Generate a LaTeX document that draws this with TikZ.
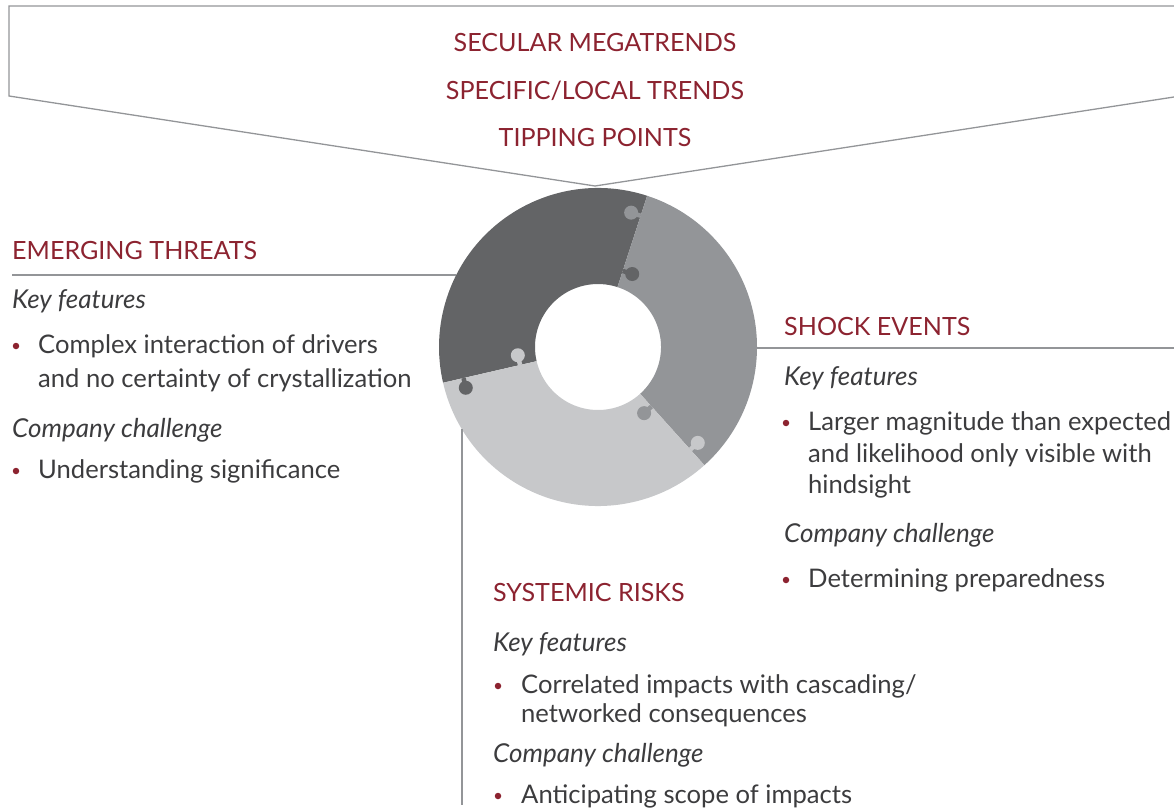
\documentclass[tikz,border=0pt]{standalone}
\usepackage{fontspec}
\setmainfont{Lato}
\usepackage{tikz}

\definecolor{riskred}{HTML}{8C2330}
\definecolor{bodygray}{HTML}{3C3C3E}
\definecolor{rulegray}{HTML}{939598}
\definecolor{segdark}{HTML}{636466}
\definecolor{segmid}{HTML}{939598}
\definecolor{seglight}{HTML}{C7C8CA}

\tikzset{
  heading/.style={anchor=base west, inner sep=0pt, text=riskred, font=\fontsize{25.1}{30}\selectfont},
  trend/.style={anchor=base, inner sep=0pt, text=riskred, font=\fontsize{25.1}{30}\selectfont},
  subhead/.style={anchor=base west, inner sep=0pt, text=bodygray, font=\fontsize{26}{30}\selectfont\itshape},
  item/.style={anchor=base west, inner sep=0pt, text=bodygray, font=\fontsize{25.6}{30}\selectfont},
  bullet/.style={circle, fill=riskred, inner sep=0pt, minimum size=6.5pt},
  rule/.style={draw=rulegray, line width=1.3pt},
}

\begin{document}
\begin{tikzpicture}[x=1pt, y=1pt]
  \useasboundingbox (0,0) rectangle (1174,-810);

  % funnel on top
  \draw[rule] (1174,-6) -- (9,-6) -- (9,-96) -- (595,-186) -- (1174,-97);
  \node[trend] (secular) at (595,-52) {SECULAR MEGATRENDS};
  \node[trend] (local) at (595,-100) {SPECIFIC/LOCAL TRENDS};
  \node[trend] (tipping) at (595,-147) {TIPPING POINTS};

  % donut
  \coordinate (c) at (598,-347);
  \fill[segdark] ([shift={(72:159)}]c) arc[start angle=72, end angle=193, radius=159]
    -- ([shift={(193:63)}]c) arc[start angle=193, end angle=72, radius=63] -- cycle;
  \fill[segmid] ([shift={(-48:159)}]c) arc[start angle=-48, end angle=72, radius=159]
    -- ([shift={(72:63)}]c) arc[start angle=72, end angle=-48, radius=63] -- cycle;
  \fill[seglight] ([shift={(193:159)}]c) arc[start angle=193, end angle=312, radius=159]
    -- ([shift={(312:63)}]c) arc[start angle=312, end angle=193, radius=63] -- cycle;
  \foreach \ang/\rad/\side/\col in {72/138/1/segmid, 72/80/-1/segdark, 193/80/-1/seglight,
      193/138/1/segdark, -48/80/-1/segmid, -48/138/1/seglight}{
    \draw[\col, line width=4.5pt] ([shift={(\ang:\rad)}]c) -- ++(\ang+90*\side:10);
    \fill[\col] ([shift={(\ang:\rad)}]c) ++(\ang+90*\side:10) circle (7);
  }

  % emerging threats
  \coordinate (emergeL) at (12,-275);
  \coordinate (emergeR) at (456,-275);
  \path[rule] (emergeL) edge (emergeR);
  \node[heading] (emerge) at (12,-259) {EMERGING THREATS};
  \node[subhead] (emergeKey) at (12,-308) {Key features};
  \node[bullet] (emergeB1) at (16,-346) {};
  \node[item] (emergeI1) at (38,-353) {Complex interaction of drivers};
  \node[item] (emergeI2) at (38,-387) {and no certainty of crystallization};
  \node[subhead] (emergeCo) at (12,-437) {Company challenge};
  \node[bullet] (emergeB2) at (16,-471) {};
  \node[item] (emergeI3) at (38,-478) {Understanding significance};

  % shock events
  \coordinate (shockL) at (757,-348);
  \coordinate (shockR) at (1174,-348);
  \path[rule] (shockL) edge (shockR);
  \node[heading] (shock) at (784,-335) {SHOCK EVENTS};
  \node[subhead] (shockKey) at (784,-385) {Key features};
  \node[bullet] (shockB1) at (786,-423) {};
  \node[item] (shockI1) at (808,-430) {Larger magnitude than expected};
  \node[item] (shockI2) at (808,-462) {and likelihood only visible with};
  \node[item] (shockI3) at (808,-493) {hindsight};
  \node[subhead] (shockCo) at (784,-542) {Company challenge};
  \node[bullet] (shockB2) at (786,-580) {};
  \node[item] (shockI4) at (808,-587) {Determining preparedness};

  % systemic risks
  \coordinate (systemT) at (462,-429);
  \coordinate (systemB) at (462,-805);
  \path[rule] (systemT) edge (systemB);
  \node[heading] (system) at (493,-601) {SYSTEMIC RISKS};
  \node[subhead] (systemKey) at (493,-651) {Key features};
  \node[bullet] (systemB1) at (498,-686) {};
  \node[item] (systemI1) at (521,-693) {Correlated impacts with cascading/};
  \node[item] (systemI2) at (521,-722) {networked consequences};
  \node[subhead] (systemCo) at (493,-762) {Company challenge};
  \node[bullet] (systemB2) at (498,-796) {};
  \node[item] (systemI3) at (521,-803) {Anticipating scope of impacts};
\end{tikzpicture}
\end{document}
